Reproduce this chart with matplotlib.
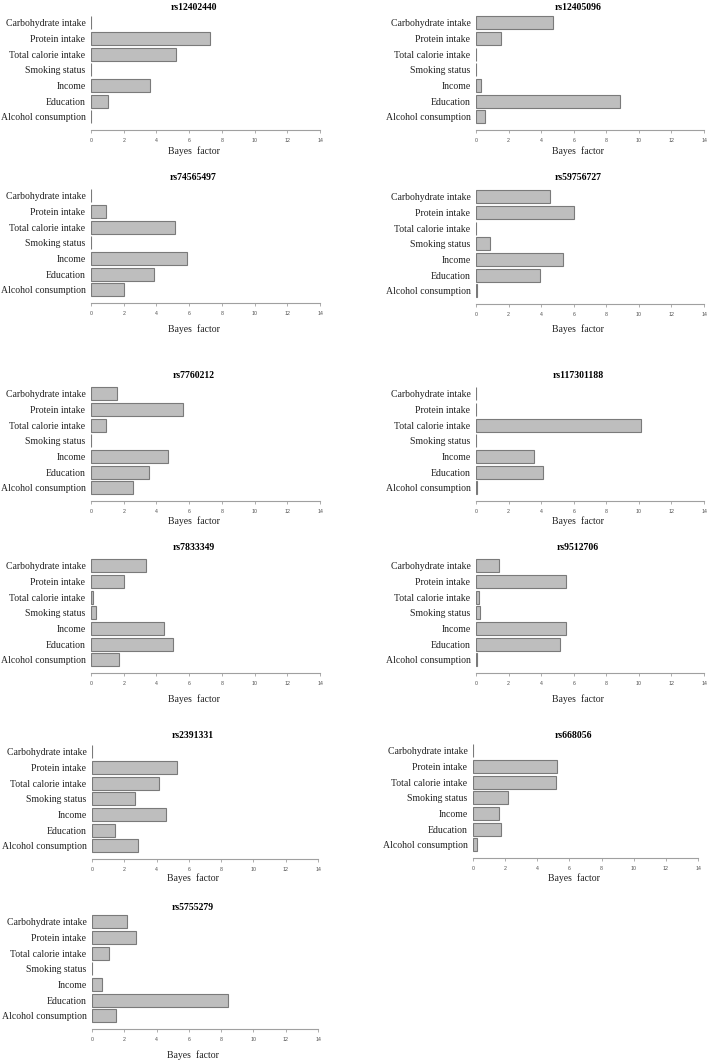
import matplotlib
matplotlib.use("Agg")
import matplotlib.pyplot as plt

categories = ["Carbohydrate intake", "Protein intake", "Total calorie intake",
              "Smoking status", "Income", "Education", "Alcohol consumption"]

snps = ["rs12402440", "rs12405096", "rs74565497", "rs59756727", "rs7760212",
        "rs117301188", "rs7833349", "rs9512706", "rs2391331", "rs668056", "rs5755279"]

rs12402440 = [0.0, 7.27, 5.22, 0.0, 3.59, 1.04, 0.0]
rs12405096 = [4.73, 1.56, 0.02, 0.02, 0.33, 8.82, 0.53]
rs74565497 = [0.0, 0.94, 5.16, 0.0, 5.84, 3.86, 2.04]
rs59756727 = [4.52, 6.04, 0.02, 0.84, 5.34, 3.93, 0.08]
rs7760212 = [1.59, 5.65, 0.94, 0.0, 4.73, 3.57, 2.59]
rs117301188 = [0.02, 0.03, 10.15, 0.01, 3.54, 4.11, 0.05]
rs7833349 = [3.37, 2.02, 0.14, 0.33, 4.49, 5.02, 1.73]
rs9512706 = [1.41, 5.51, 0.20, 0.25, 5.55, 5.14, 0.08]
rs2391331 = [0.01, 5.29, 4.15, 2.67, 4.61, 1.43, 2.87]
rs668056 = [0.01, 5.22, 5.18, 2.19, 1.64, 1.76, 0.23]
rs5755279 = [2.19, 2.73, 1.07, 0.01, 0.60, 8.43, 1.49]

values = [rs12402440, rs12405096, rs74565497, rs59756727, rs7760212,
          rs117301188, rs7833349, rs9512706, rs2391331, rs668056, rs5755279]

xticks = [0, 2, 4, 6, 8, 10, 12, 14]

# panel placement in pixels: x of 0, x of 14, y of axis line, title y, xlabel y
layout = [
    (91, 320, 130, 7, 151),
    (476, 704, 130, 7, 151),
    (91, 320, 303, 178, 329),
    (476, 704, 304, 178, 329),
    (91, 320, 501, 375, 521),
    (476, 704, 501, 375, 521),
    (91, 320, 673, 548, 699),
    (476, 704, 673, 548, 699),
    (92, 318, 859, 735, 878),
    (473, 698, 858, 735, 878),
    (92, 318, 1029, 908, 1055),
]

W, H = 709, 1062
fig = plt.figure(figsize=(W / 100, H / 100), dpi=100)
fig.patch.set_facecolor("white")

serif = ["Liberation Serif", "DejaVu Serif"]
sans = ["Liberation Sans", "DejaVu Sans"]
step = 15.67
ybot, ytop = 6.83, -0.6

for name, vals, (x0, x1, ya, ty, ly) in zip(snps, values, layout):
    h = (ybot - ytop) * step
    ax = fig.add_axes([x0 / W, 1 - ya / H, (x1 - x0) / W, h / H])
    ax.barh(range(len(categories)), vals, height=0.83, color="#bebebe",
            edgecolor="#7a7a7a", linewidth=0.8)
    ax.set_xlim(0, 14)
    ax.set_ylim(ybot, ytop)
    ax.set_facecolor("none")
    for s in ["top", "right", "left"]:
        ax.spines[s].set_visible(False)
    ax.spines["bottom"].set_color("#a0a0a0")
    ax.spines["bottom"].set_linewidth(0.8)
    ax.set_xticks(xticks)
    ax.set_xticklabels([str(t) for t in xticks], fontsize=3.8, color="#505050",
                       family=sans)
    ax.tick_params(axis="x", length=2.5, width=0.6, color="#a0a0a0", pad=3)
    ax.set_yticks(range(len(categories)))
    ax.set_yticklabels(categories, fontsize=7, family=serif, color="#222222")
    ax.tick_params(axis="y", length=0, pad=4)

    cx = (x0 + x1) / 2 - 12
    fig.text(cx / W, 1 - ty / H, name, ha="center", va="center", fontsize=7,
             fontweight="bold", family=serif)
    fig.text(cx / W, 1 - ly / H, "Bayes  factor", ha="center", va="center",
             fontsize=7, family=serif, color="#222222")

fig.savefig("out.png", dpi=100, facecolor="white")
